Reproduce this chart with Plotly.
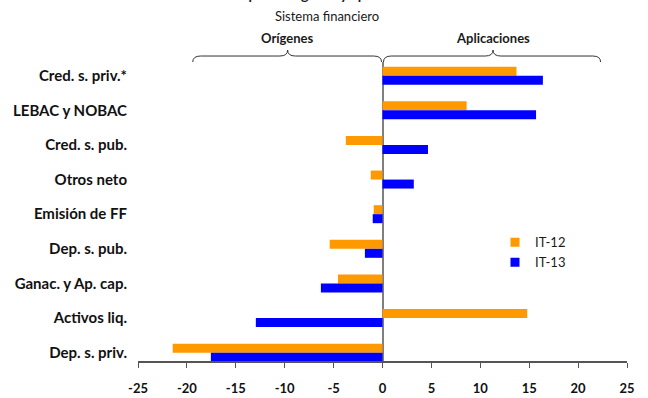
import plotly.graph_objects as go

categories = ["Cred. s. priv.*", "LEBAC y NOBAC", "Cred. s. pub.", "Otros neto",
              "Emisión de FF", "Dep. s. pub.", "Ganac. y Ap. cap.", "Activos liq.",
              "Dep. s. priv."]
it12 = [13.7, 8.6, -3.75, -1.2, -0.9, -5.4, -4.55, 14.8, -21.45]
it13 = [16.4, 15.7, 4.65, 3.2, -1.0, -1.8, -6.3, -12.95, -17.55]
x_ticks = [-25, -20, -15, -10, -5, 0, 5, 10, 15, 20, 25]
x_tick_labels = ["-25", "-20", "-15", "-10", "-5", "0", "5", "10", "15", "20", "25"]

ORANGE = "#FF9900"
BLUE = "#0000FF"
FONT = "Lato"

fig = go.Figure()
fig.add_trace(go.Bar(y=categories, x=it12, orientation="h", marker_color=ORANGE,
                     marker_line_width=0, width=0.26, offset=0, showlegend=False))
fig.add_trace(go.Bar(y=categories, x=it13, orientation="h", marker_color=BLUE,
                     marker_line_width=0, width=0.26, offset=-0.26, showlegend=False))
fig.add_trace(go.Scatter(x=[None], y=[None], mode="markers", name="IT-12",
                         marker=dict(symbol="square", size=9, color=ORANGE)))
fig.add_trace(go.Scatter(x=[None], y=[None], mode="markers", name="IT-13",
                         marker=dict(symbol="square", size=9, color=BLUE)))

def brace(x0, xt, x1, d=0.8):
    y0, y1, yt = 1.0, 1.02, 1.04
    return (f"M {x0},{y0} Q {x0},{y1} {x0+d},{y1} L {xt-d},{y1} Q {xt},{y1} {xt},{yt} "
            f"Q {xt},{y1} {xt+d},{y1} L {x1-d},{y1} Q {x1},{y1} {x1},{y0}")

shapes = [
    dict(type="path", xref="x", yref="paper", path=brace(-19.4, -9.7, -0.1),
         line=dict(color="#333333", width=1)),
    dict(type="path", xref="x", yref="paper", path=brace(0.1, 11.3, 22.3),
         line=dict(color="#333333", width=1)),
]

annotations = [
    dict(text="<b>Principales orígenes y aplicaciones</b>", xref="paper", yref="paper",
         x=(320 - 138) / 489, y=1, yanchor="bottom", yshift=57, showarrow=False,
         font=dict(family=FONT, size=14, color="#1a1a1a")),
    dict(text="Sistema financiero", xref="paper", yref="paper",
         x=(327 - 138) / 489, y=1, yanchor="middle", yshift=62 - 16, showarrow=False,
         font=dict(family=FONT, size=13, color="#1a1a1a")),
    dict(text="<b>Orígenes</b>", xref="x", yref="paper", x=-9.7, y=1, yanchor="middle",
         yshift=62 - 38, showarrow=False, font=dict(family=FONT, size=13, color="#1a1a1a")),
    dict(text="<b>Aplicaciones</b>", xref="x", yref="paper", x=11.3, y=1, yanchor="middle",
         yshift=62 - 38, showarrow=False, font=dict(family=FONT, size=13, color="#1a1a1a")),
]

fig.update_layout(
    width=648, height=398,
    margin=dict(l=138, r=21, t=62, b=37),
    paper_bgcolor="white", plot_bgcolor="white",
    barmode="overlay",
    shapes=shapes, annotations=annotations,
    legend=dict(x=(495 - 138) / 489, y=1 - (227.5 - 62) / 299.3, xanchor="left", yanchor="top",
                bgcolor="rgba(0,0,0,0)", font=dict(family=FONT, size=13, color="#1a1a1a"),
                itemwidth=30, tracegroupgap=0),
    xaxis=dict(range=[-25, 25], tickvals=x_ticks, ticktext=x_tick_labels,
               showgrid=False, automargin=False,
               showline=True, linecolor="#555555", linewidth=1.5,
               ticks="outside", ticklen=5, tickcolor="#555555", tickwidth=1,
               zeroline=True, zerolinecolor="#7f7f7f", zerolinewidth=2,
               ticklabelstandoff=10, layer="above traces",
               tickfont=dict(family=FONT, size=13, color="#111111", weight="bold")),
    yaxis=dict(categoryorder="array", categoryarray=list(reversed(categories)),
               range=[-0.24, 8.395], showgrid=False, showline=False, zeroline=False,
               automargin=False, ticks="", ticklabelstandoff=10,
               tickfont=dict(family=FONT, size=15, color="#111111", weight="bold")),
)

fig.write_html("out.html", config={"displayModeBar": False},
               post_script="document.body.style.margin='0px';")
